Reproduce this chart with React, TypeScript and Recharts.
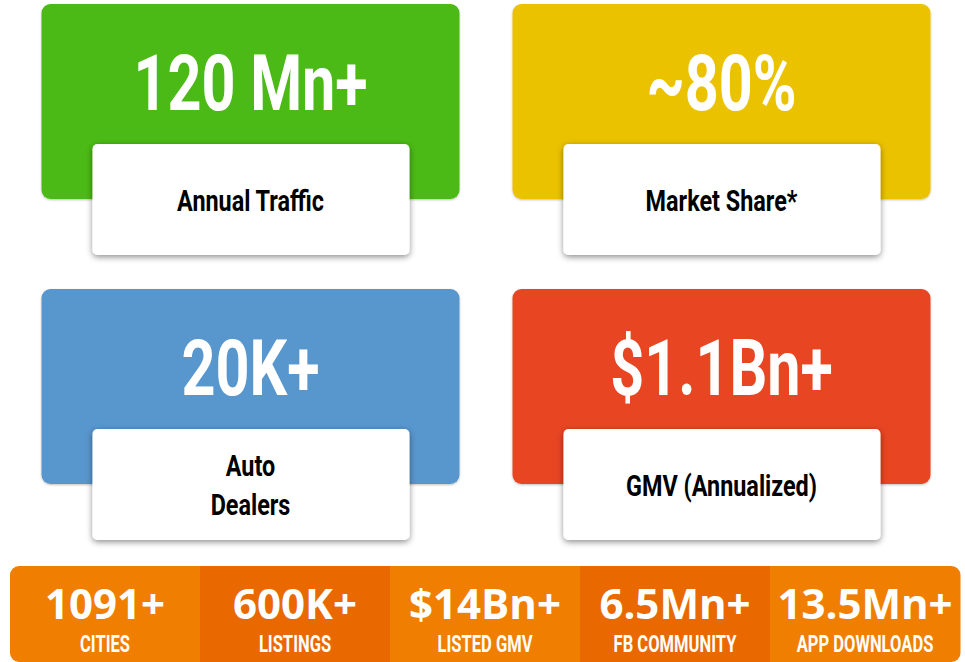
import React from 'react';
import { BarChart, Bar, XAxis, YAxis, Cell, Rectangle } from 'recharts';

// ---- data ----
const cardNames = ['traffic', 'share', 'dealers', 'gmv'];
const cardValues = ['120 Mn+', '~80%', '20K+', '$1.1Bn+'];
const cardCaptions = [['Annual Traffic'], ['Market Share*'], ['Auto', 'Dealers'], ['GMV (Annualized)']];
const cardColors = ['#4BBA14', '#EBC200', '#5896CE', '#E84520'];

const statValues = ['1091+', '600K+', '$14Bn+', '6.5Mn+', '13.5Mn+'];
const statLabels = ['CITIES', 'LISTINGS', 'LISTED GMV', 'FB COMMUNITY', 'APP DOWNLOADS'];
const statColors = ['#F07E00', '#E96800', '#F07E00', '#E96800', '#F07E00'];

const NARROW = "Roboto, 'Noto Sans', sans-serif";
const WIDE = "'Open Sans', 'Noto Sans', sans-serif";

const topRow = [0, 1].map((i) => ({ name: cardNames[i], value: cardValues[i], caption: cardCaptions[i], fill: cardColors[i], size: 1 }));
const bottomRow = [2, 3].map((i) => ({ name: cardNames[i], value: cardValues[i], caption: cardCaptions[i], fill: cardColors[i], size: 1 }));
const stats = statValues.map((v, i) => ({ name: statLabels[i], value: v, fill: statColors[i], size: 1 }));

const NarrowText = ({ x, y, size, fill, sx, children }: any) => (
  <g transform={`translate(${x},${y}) scale(${sx},1)`}>
    <text x={0} y={0} textAnchor="middle" fill={fill} fontFamily={NARROW} fontWeight={700} fontSize={size}>
      {children}
    </text>
  </g>
);

const CardShape = (props: any) => {
  const { x, y, width, height, payload, fill } = props;
  const cx = x + width / 2;
  const wx = x + 51;
  const wy = y + 140;
  const ww = width - 101;
  const wh = 111;
  const cap: string[] = payload.caption;
  const capCy = wy + wh / 2;
  return (
    <g>
      <rect x={x} y={y} width={width} height={height} rx={9} ry={9} fill={fill} filter="url(#cardShadow)" />
      <NarrowText x={cx} y={y + 106} size={77} sx={0.77} fill="#ffffff">
        {payload.value}
      </NarrowText>
      <rect x={wx} y={wy} width={ww} height={wh} rx={5} ry={5} fill="#ffffff" filter="url(#whiteShadow)" />
      {cap.map((c, k) => (
        <NarrowText key={k} x={cx} y={capCy + 11 + (k - (cap.length - 1) / 2) * 39} size={30} sx={0.78} fill="#000000">
          {c}
        </NarrowText>
      ))}
    </g>
  );
};

const StatShape = (props: any) => {
  const { x, y, width, height, payload, fill, index } = props;
  const cx = x + width / 2;
  const r = index === 0 ? [9, 0, 0, 9] : index === stats.length - 1 ? [0, 9, 9, 0] : 0;
  return (
    <g>
      <Rectangle x={x} y={y} width={width + 0.5} height={height} radius={r as any} fill={fill} />
      <text x={cx} y={y + 53} textAnchor="middle" fill="#ffffff" fontFamily={WIDE} fontWeight={700} fontSize={42}>
        {payload.value}
      </text>
      <NarrowText x={cx} y={y + 86} size={23} sx={0.72} fill="#ffffff">
        {payload.name}
      </NarrowText>
    </g>
  );
};

const Defs = () => (
  <defs>
    <filter id="cardShadow" x="-5%" y="-5%" width="110%" height="115%">
      <feDropShadow dx="0" dy="1" stdDeviation="1" floodColor="#000" floodOpacity="0.25" />
    </filter>
    <filter id="whiteShadow" x="-10%" y="-20%" width="120%" height="150%">
      <feDropShadow dx="0" dy="2" stdDeviation="3" floodColor="#000" floodOpacity="0.45" />
    </filter>
  </defs>
);

const CardRow = ({ data }: { data: any[] }) => (
  <BarChart width={965} height={290} data={data} margin={{ top: 4, right: 8.5, left: 14.5, bottom: 91 }} barSize={418}>
    <Defs />
    <XAxis dataKey="name" hide />
    <YAxis hide domain={[0, 1]} />
    <Bar dataKey="size" isAnimationActive={false} shape={<CardShape />}>
      {data.map((d, i) => (
        <Cell key={i} fill={d.fill} />
      ))}
    </Bar>
  </BarChart>
);

export default function App() {
  return (
    <div style={{ position: 'absolute', left: 0, top: 0, width: 965, height: 662, background: '#ffffff', overflow: 'hidden' }}>
      <div style={{ position: 'absolute', left: 0, top: 0 }}>
        <CardRow data={topRow} />
      </div>
      <div style={{ position: 'absolute', left: 0, top: 285 }}>
        <CardRow data={bottomRow} />
      </div>
      <div style={{ position: 'absolute', left: 0, top: 566 }}>
        <BarChart width={965} height={96} data={stats} margin={{ top: 0, right: 5, left: 10, bottom: 0 }} barCategoryGap={0}>
          <XAxis dataKey="name" hide />
          <YAxis hide domain={[0, 1]} />
          <Bar dataKey="size" isAnimationActive={false} shape={<StatShape />}>
            {stats.map((d, i) => (
              <Cell key={i} fill={d.fill} />
            ))}
          </Bar>
        </BarChart>
      </div>
    </div>
  );
}
